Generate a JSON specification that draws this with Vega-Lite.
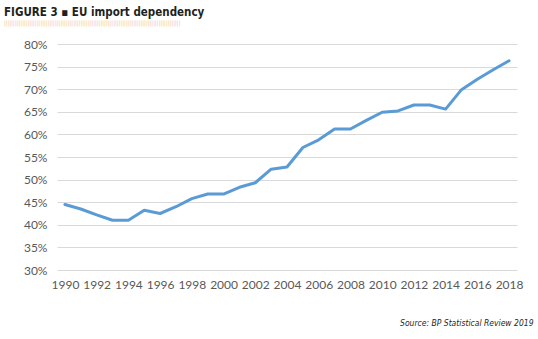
{
  "$schema": "https://vega.github.io/schema/vega-lite/v6.json",
  "width": 460,
  "height": 226,
  "autosize": {"type": "none"},
  "padding": {"left": 57, "top": 44, "right": 21, "bottom": 69},
  "background": "white",
  "title": {
    "text": "FIGURE 3 ▪ EU import dependency",
    "subtitle": "|||||||||||||||||||||||||||||||||||||||||||||||||||||||||||||||||||||||||||||||||||||||||||||||||",
    "anchor": "start",
    "frame": "group",
    "dx": -53,
    "offset": 12,
    "font": "DejaVu Sans Condensed",
    "fontSize": 11.5,
    "fontWeight": "bold",
    "color": "#231f20",
    "subtitleFont": "DejaVu Sans Condensed",
    "subtitleFontSize": 6,
    "subtitleColor": "#f5c48e",
    "subtitlePadding": 2
  },
  "data": {
    "values": [
      {"year": 1990, "share": 0.445},
      {"year": 1991, "share": 0.435},
      {"year": 1992, "share": 0.422},
      {"year": 1993, "share": 0.41},
      {"year": 1994, "share": 0.41},
      {"year": 1995, "share": 0.432},
      {"year": 1996, "share": 0.425},
      {"year": 1997, "share": 0.44},
      {"year": 1998, "share": 0.458},
      {"year": 1999, "share": 0.468},
      {"year": 2000, "share": 0.468},
      {"year": 2001, "share": 0.483},
      {"year": 2002, "share": 0.493},
      {"year": 2003, "share": 0.523},
      {"year": 2004, "share": 0.528},
      {"year": 2005, "share": 0.571},
      {"year": 2006, "share": 0.588},
      {"year": 2007, "share": 0.612},
      {"year": 2008, "share": 0.612},
      {"year": 2009, "share": 0.631},
      {"year": 2010, "share": 0.649},
      {"year": 2011, "share": 0.652},
      {"year": 2012, "share": 0.665},
      {"year": 2013, "share": 0.665},
      {"year": 2014, "share": 0.656},
      {"year": 2015, "share": 0.699},
      {"year": 2016, "share": 0.722},
      {"year": 2017, "share": 0.743},
      {"year": 2018, "share": 0.763}
    ]
  },
  "mark": {"type": "line", "color": "#5b9bd5", "strokeWidth": 3, "strokeCap": "round", "strokeJoin": "round"},
  "encoding": {
    "x": {
      "field": "year",
      "type": "quantitative",
      "scale": {"domain": [1989.5, 2018.5], "nice": false, "zero": false},
      "axis": {
        "values": [1990, 1992, 1994, 1996, 1998, 2000, 2002, 2004, 2006, 2008, 2010, 2012, 2014, 2016, 2018],
        "format": "d",
        "grid": false,
        "domain": false,
        "ticks": false,
        "labelPadding": 9,
        "labelFont": "Lato",
        "labelFontSize": 12,
        "labelColor": "#595959",
        "title": "Source: BP Statistical Review 2019",
        "titleFont": "DejaVu Sans Condensed",
        "titleFontStyle": "italic",
        "titleFontWeight": "normal",
        "titleFontSize": 8.5,
        "titleColor": "#231f20",
        "titleAnchor": "end",
        "titleAlign": "right",
        "titleX": 476,
        "titlePadding": 28
      }
    },
    "y": {
      "field": "share",
      "type": "quantitative",
      "scale": {"domain": [0.3, 0.8], "nice": false, "zero": false},
      "axis": {
        "values": [0.3, 0.35, 0.4, 0.45, 0.5, 0.55, 0.6, 0.65, 0.7, 0.75, 0.8],
        "format": ".0%",
        "grid": true,
        "gridColor": "#d9d9d9",
        "gridWidth": 1,
        "domain": false,
        "ticks": false,
        "labelPadding": 10,
        "labelFont": "Lato",
        "labelFontSize": 12,
        "labelColor": "#595959",
        "title": null
      }
    }
  },
  "config": {"view": {"stroke": null}}
}
